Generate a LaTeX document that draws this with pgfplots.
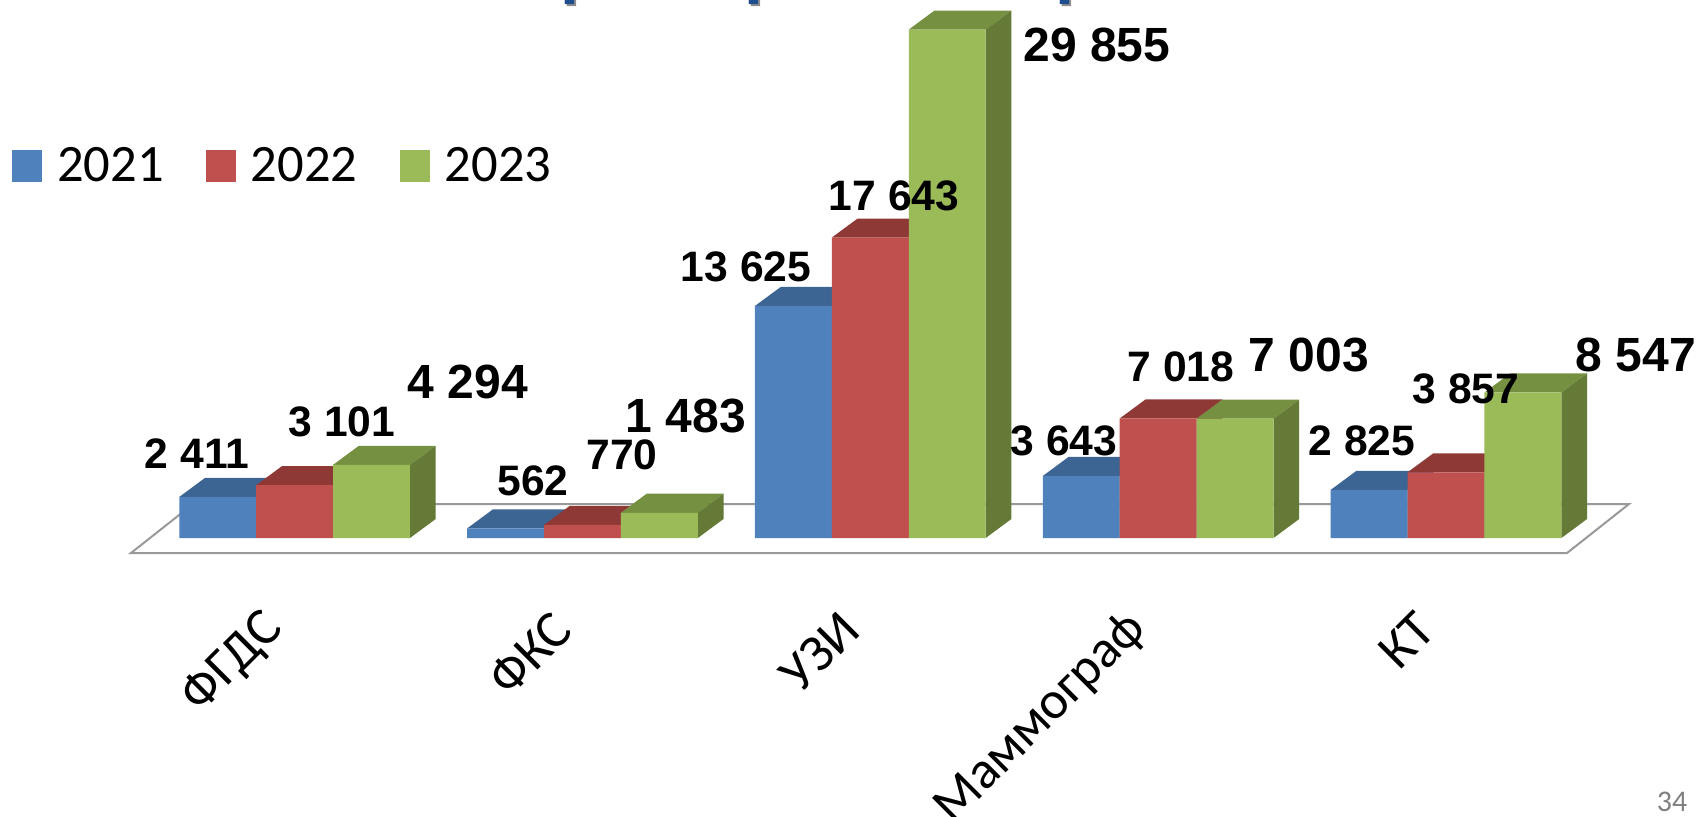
\documentclass[border=0pt]{standalone}
\usepackage{fontspec}
\setmainfont{Carlito}
\newfontfamily\lab{Liberation Sans}
\usepackage{pgfplots}
\pgfplotsset{compat=1.18}
\definecolor{bf}{HTML}{4F81BD}\definecolor{bt}{HTML}{3D6594}\definecolor{bs}{HTML}{325278}
\definecolor{rf}{HTML}{C0504D}\definecolor{rt}{HTML}{8F3937}\definecolor{rs}{HTML}{7C3230}
\definecolor{gf}{HTML}{9BBB59}\definecolor{gt}{HTML}{769041}\definecolor{gs}{HTML}{667A38}
\definecolor{tt}{HTML}{1F4E8F}
% depth faces of one bar: category, shift (bar widths), value, top colour, side colour
\newcommand\depth[5]{%
 \pgfmathsetmacro\xl{#1+(#2-0.5)*0.26715}%
 \pgfmathsetmacro\xr{#1+(#2+0.5)*0.26715}%
 \pgfmathsetmacro\xld{\xl+0.0893}%
 \pgfmathsetmacro\xrd{\xr+0.0893}%
 \edef\yt{\the\numexpr#3+1116\relax}%
 \edef\temp{\noexpand\addplot[forget plot,draw=none,fill=#4] coordinates {(\xl,#3)(\xr,#3)(\xrd,\yt)(\xld,\yt)} -- cycle;
 \noexpand\addplot[forget plot,draw=none,fill=#5] coordinates {(\xr,0)(\xr,#3)(\xrd,\yt)(\xrd,1116)} -- cycle;}\temp}
\newcommand\lbl[4]{\node[font=\lab\bfseries\fontsize{#1}{#1}\selectfont,inner sep=0pt] at (rel axis cs:#2/1696,1-#3/816) {#4};}
\newcommand\ttl[1]{\node[text=black!45,font=\lab\bfseries\fontsize{34pt}{34pt}\selectfont,inner sep=0pt,anchor=base] at (rel axis cs:#1/1696+0.0085,1+0.0095) {р};
\node[text=tt,font=\lab\bfseries\fontsize{34pt}{34pt}\selectfont,inner sep=0pt,anchor=base] at (rel axis cs:#1/1696+0.0072,1+0.012) {р};}
\pgfplotsset{sq/.style={legend image code/.code={\fill[##1] (0pt,-8pt) rectangle (15pt,8pt);}}}
\begin{document}
\begin{tikzpicture}
\path[use as bounding box,clip] (0,0) rectangle (848pt,408pt);
\begin{axis}[
  scale only axis,width=848pt,height=408pt,
  xmin=-1.02345,xmax=4.8685,ymin=-16324,ymax=31591,
  axis line style={draw=none},tick style={draw=none},
  ytick=\empty,xtick={0,1,2,3,4},
  xticklabels={ФГДС,ФКС,УЗИ,Маммограф,КТ},
  xticklabel style={xshift=-7.6pt,yshift=100pt,rotate=45,anchor=east,font=\fontsize{26.5pt}{26.5pt}\selectfont},
  clip=false,
  legend columns=3,
  legend style={at={(rel axis cs:0.007,0.7966)},anchor=west,draw=none,fill=none,inner sep=0pt,outer sep=0pt,font=\fontsize{26.3pt}{26.3pt}\selectfont,
    /tikz/every odd column/.append style={column sep=5.6pt},
    /tikz/every even column/.append style={column sep=19pt}},
]
\addplot[forget plot,fill=white,draw=black!40,line width=1pt] coordinates {(-0.5684,-881)(4.4204,-881)(4.6358,1996)(-0.3530,1996)} -- cycle;
% 2021
\depth{0}{-1}{2411}{bt}{bs}\depth{1}{-1}{562}{bt}{bs}\depth{2}{-1}{13625}{bt}{bs}\depth{3}{-1}{3643}{bt}{bs}\depth{4}{-1}{2825}{bt}{bs}
\addplot[ybar,sq,bar width=38.45pt,bar shift=-38.45pt,draw=none,fill=bf] coordinates {(0,2411)(1,562)(2,13625)(3,3643)(4,2825)};
\addlegendentry{2021}
% 2022
\depth{0}{0}{3101}{rt}{rs}\depth{1}{0}{770}{rt}{rs}\depth{2}{0}{17643}{rt}{rs}\depth{3}{0}{7018}{rt}{rs}\depth{4}{0}{3857}{rt}{rs}
\addplot[ybar,sq,bar width=38.45pt,bar shift=0pt,draw=none,fill=rf] coordinates {(0,3101)(1,770)(2,17643)(3,7018)(4,3857)};
\addlegendentry{2022}
% 2023
\depth{0}{1}{4294}{gt}{gs}\depth{1}{1}{1483}{gt}{gs}\depth{2}{1}{29855}{gt}{gs}\depth{3}{1}{7003}{gt}{gs}\depth{4}{1}{8547}{gt}{gs}
\addplot[ybar,sq,bar width=38.45pt,bar shift=38.45pt,draw=none,fill=gf] coordinates {(0,4294)(1,1483)(2,29855)(3,7003)(4,8547)};
\addlegendentry{2023}
\lbl{21.3pt}{197}{454}{2 411}
\lbl{21.3pt}{342}{422}{3 101}
\lbl{24pt}{468}{382}{4 294}
\lbl{21.3pt}{533}{481}{562}
\lbl{21.3pt}{622}{455}{770}
\lbl{24pt}{686}{416}{1 483}
\lbl{21.3pt}{746}{267}{13 625}
\lbl{21.3pt}{894}{196}{17 643}
\lbl{24pt}{1097}{45}{29 855}
\lbl{21.3pt}{1064}{441}{3 643}
\lbl{21.3pt}{1181}{367}{7 018}
\lbl{24pt}{1309}{355}{7 003}
\lbl{21.3pt}{1362}{441}{2 825}
\lbl{21.3pt}{1466}{389}{3 857}
\lbl{24pt}{1636}{355}{8 547}
\node[text=black!50,font=\fontsize{15pt}{15pt}\selectfont,inner sep=0pt] at (rel axis cs:1672/1696,1-802/816) {34};
\ttl{569}\ttl{753}\ttl{1064}
\end{axis}
\end{tikzpicture}
\end{document}
